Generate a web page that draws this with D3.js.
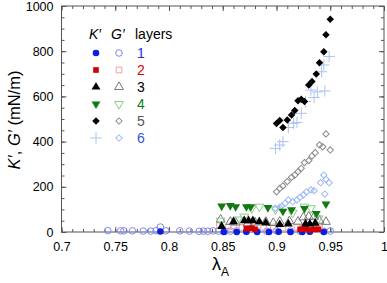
<!DOCTYPE html>
<html>
<head>
<meta charset="utf-8">
<script src="https://cdn.jsdelivr.net/npm/d3@7"></script>
<style>
  body { margin: 0; background: #fff; }
  text { font-family: "Liberation Sans", Arial, sans-serif; }
</style>
</head>
<body>
<svg width="387" height="283"></svg>
<script>
// data: lambda_A and modulus (mN/m)
var k1x = [0.792, 0.851, 0.863, 0.872, 0.882, 0.893, 0.902, 0.913, 0.924, 0.931, 0.944];
var k1y = [2, 0, 0, 1, 0, 0, 1, 0, 0, 1, 0];
var g1x = [0.743, 0.755, 0.758, 0.766, 0.776, 0.783, 0.788, 0.792, 0.797, 0.810, 0.819, 0.828, 0.832,
           0.836, 0.841, 0.846, 0.852, 0.857, 0.863, 0.872, 0.882, 0.891, 0.900, 0.913, 0.922, 0.931, 0.944, 0.950];
var g1y = [6, 5, 5, 5, 4, 4, 6, 22, 5, 5, 4, 3, 4, 3, 5, 4, 3, 4, 5, 3, 4, 3, 5, 4, 3, 4, 3, 4];

var k2x = [0.872, 0.877, 0.880, 0.922, 0.927, 0.931, 0.935, 0.939];
var k2y = [15, 17, 12, 12, 14, 9, 12, 12];
var g2x = [0.847, 0.855, 0.860, 0.868, 0.875, 0.888, 0.897, 0.906, 0.919, 0.925, 0.937, 0.940];
var g2y = [28, 22, 25, 20, 18, 20, 22, 18, 20, 18, 15, 20];

var k3x = [0.849, 0.860, 0.870, 0.874, 0.878, 0.884, 0.890, 0.903, 0.911, 0.927, 0.931, 0.936];
var k3y = [25, 46, 50, 50, 50, 46, 40, 33, 36, 36, 36, 39];
var g3x = [0.848, 0.857, 0.862, 0.873, 0.880, 0.890, 0.897, 0.903, 0.912, 0.920, 0.925, 0.930, 0.935, 0.940, 0.946];
var g3y = [55, 45, 42, 38, 42, 45, 40, 46, 48, 46, 65, 68, 68, 50, 45];

var k4x = [0.849, 0.857, 0.862, 0.872, 0.876, 0.892, 0.906, 0.914, 0.926, 0.937, 0.946];
var k4y = [115, 117, 112, 112, 112, 108, 92, 98, 104, 82, 124];
var g4x = [0.848, 0.864, 0.870, 0.877, 0.884, 0.899, 0.915, 0.926, 0.932, 0.939];
var g4y = [50, 55, 68, 105, 112, 100, 85, 112, 105, 60];

var k5x = [0.900, 0.903, 0.906, 0.910, 0.914, 0.917, 0.920, 0.923, 0.926, 0.930, 0.933, 0.937, 0.940, 0.944, 0.946, 0.950];
var k5y = [480, 493, 462, 496, 518, 538, 581, 587, 577, 650, 666, 699, 749, 798, 873, 941];
var g5x = [0.900, 0.903, 0.906, 0.910, 0.914, 0.917, 0.920, 0.923, 0.926, 0.930, 0.933, 0.936, 0.940, 0.943, 0.946, 0.950];
var g5y = [178, 193, 204, 223, 242, 252, 267, 282, 307, 316, 336, 351, 385, 377, 434, 363];

var k6x = [0.899, 0.903, 0.906, 0.911, 0.916, 0.919, 0.923, 0.927, 0.932, 0.935, 0.938, 0.945, 0.942, 0.944, 0.949];
var k6y = [370, 385, 400, 462, 481, 485, 525, 577, 628, 595, 620, 624, 709, 739, 776];
var g6x = [0.899, 0.903, 0.905, 0.908, 0.911, 0.915, 0.919, 0.922, 0.925, 0.928, 0.932, 0.935, 0.941, 0.944, 0.945, 0.949, 0.946];
var g6y = [105, 109, 115, 127, 142, 134, 142, 154, 164, 178, 186, 183, 218, 252, 168, 218, 233];

var xTicks = [0.7, 0.75, 0.8, 0.85, 0.9, 0.95, 1];
var yTicks = [0, 200, 400, 600, 800, 1000];
var layerNames = ['1', '2', '3', '4', '5', '6'];

var svg = d3.select('svg');
// careful: "top" is a read-only browser global, so use other names
var plotL = 61.5, plotR = 384, plotT = 6, plotB = 232;

var x = d3.scaleLinear().domain([0.7, 1]).range([plotL, plotR]);
var y = d3.scaleLinear().domain([0, 1000]).range([plotB, plotT]);

// frame + inward ticks
var frame = '#555';
svg.append('rect').attr('x', plotL).attr('y', plotT)
    .attr('width', plotR - plotL).attr('height', plotB - plotT)
    .attr('fill', 'none').attr('stroke', frame).attr('stroke-width', 1);

var xMinor = d3.range(70, 101, 1).map(function(v) { return v / 100; });
var yMinor = d3.range(0, 1001, 50);

svg.append('g').attr('transform', 'translate(0,' + plotB + ')')
    .call(d3.axisBottom(x).tickValues(xMinor).tickSize(-3).tickFormat(''));
svg.append('g').attr('transform', 'translate(0,' + plotT + ')')
    .call(d3.axisTop(x).tickValues(xMinor).tickSize(-3).tickFormat(''));
svg.append('g').attr('transform', 'translate(' + plotL + ',0)')
    .call(d3.axisLeft(y).tickValues(yMinor).tickSize(-3).tickFormat(''));
svg.append('g').attr('transform', 'translate(' + plotR + ',0)')
    .call(d3.axisRight(y).tickValues(yMinor).tickSize(-3).tickFormat(''));

svg.append('g').attr('transform', 'translate(0,' + plotB + ')')
    .call(d3.axisBottom(x).tickValues(xTicks).tickSize(-5).tickPadding(10)
        .tickFormat(function(d) { return String(+d.toFixed(2)); }));
svg.append('g').attr('transform', 'translate(0,' + plotT + ')')
    .call(d3.axisTop(x).tickValues(xTicks).tickSize(-5).tickFormat(''));
svg.append('g').attr('transform', 'translate(' + plotL + ',0)')
    .call(d3.axisLeft(y).tickValues(yTicks).tickSize(-5).tickPadding(8).tickFormat(d3.format('d')));
svg.append('g').attr('transform', 'translate(' + plotR + ',0)')
    .call(d3.axisRight(y).tickValues(yTicks).tickSize(-5).tickFormat(''));

svg.selectAll('.domain').remove();
svg.selectAll('.tick line').attr('stroke', frame);
svg.selectAll('.tick text').attr('font-size', 12.5).attr('fill', '#000')
    .style('font-family', '"Liberation Sans", Arial, sans-serif');

// symbols
var sym = {
  circle: d3.symbol().type(d3.symbolCircle).size(34),
  square: d3.symbol().type(d3.symbolSquare).size(32),
  tri: d3.symbol().type(d3.symbolTriangle).size(34),
  diamond: d3.symbol().type(d3.symbolSquare).size(20),
  bigdiamond: d3.symbol().type(d3.symbolSquare).size(28),
  plus: d3.symbol().type(d3.symbolPlus).size(44)
};

var series = [
  {xs: g1x, ys: g1y, s: 'circle', fill: 'none', stroke: '#7f86f2'},
  {xs: g2x, ys: g2y, s: 'square', fill: 'none', stroke: '#f0a0a0'},
  {xs: g3x, ys: g3y, s: 'tri', fill: 'none', stroke: '#777'},
  {xs: g4x, ys: g4y, s: 'tri', rot: 180, fill: 'none', stroke: '#88cc88'},
  {xs: g5x, ys: g5y, s: 'diamond', rot: 45, fill: 'none', stroke: '#8a8a8a'},
  {xs: g6x, ys: g6y, s: 'diamond', rot: 45, fill: 'none', stroke: '#9bb8f5'},
  {xs: k6x, ys: k6y, s: 'plus', fill: 'none', stroke: '#a9c2f2'},
  {xs: k1x, ys: k1y, s: 'circle', fill: '#0a1ee0', stroke: 'none'},
  {xs: k2x, ys: k2y, s: 'square', fill: '#d40000', stroke: 'none'},
  {xs: k3x, ys: k3y, s: 'tri', fill: '#000', stroke: 'none'},
  {xs: k4x, ys: k4y, s: 'tri', rot: 180, fill: '#137a13', stroke: 'none'},
  {xs: k5x, ys: k5y, s: 'bigdiamond', rot: 45, fill: '#000', stroke: 'none'}
];

series.forEach(function(se) {
  svg.append('g').selectAll('path')
    .data(se.xs.map(function(v, i) { return [v, se.ys[i]]; }))
    .enter()
    .append('path')
    .attr('d', sym[se.s]())
    .attr('transform', function(d) {
        return 'translate(' + x(d[0]) + ',' + y(d[1]) + ')' + (se.rot ? ' rotate(' + se.rot + ')' : '');
    })
    .attr('fill', se.fill)
    .attr('stroke', se.stroke)
    .attr('stroke-width', 1);
});

// legend
var legY = [53, 70, 87, 104, 121, 138];
var kStyle = [series[7], series[8], series[9], series[10], series[11], series[6]];
var gStyle = [series[0], series[1], series[2], series[3], series[4], series[5]];
var numColors = ['#1f2fe0', '#d40000', '#000', '#137a13', '#555', '#2f55e0'];

var hdr = svg.append('text').attr('y', 39).attr('font-size', 14);
hdr.append('tspan').attr('x', 89).attr('font-style', 'italic').text('K′');
hdr.append('tspan').attr('x', 111).attr('font-style', 'italic').text('G′');
hdr.append('tspan').attr('x', 135).text('layers');

layerNames.forEach(function(n, i) {
  [[96, kStyle[i]], [119, gStyle[i]]].forEach(function(p) {
    var se = p[1];
    svg.append('path')
      .attr('d', sym[se.s]())
      .attr('transform', 'translate(' + p[0] + ',' + legY[i] + ')' + (se.rot ? ' rotate(' + se.rot + ')' : ''))
      .attr('fill', se.fill).attr('stroke', se.stroke);
  });
  svg.append('text').attr('x', 137).attr('y', legY[i] + 5).attr('font-size', 14)
    .attr('fill', numColors[i]).text(n);
});

// axis titles
var yl = svg.append('text').attr('transform', 'translate(20,120) rotate(-90)')
    .attr('text-anchor', 'middle').attr('font-size', 16.5);
yl.append('tspan').attr('font-style', 'italic').text('K′');
yl.append('tspan').text(', ');
yl.append('tspan').attr('font-style', 'italic').text('G′');
yl.append('tspan').text(' (mN/m)');

var xl = svg.append('text').attr('x', 212).attr('y', 270).attr('font-size', 18).text('λ');
xl.append('tspan').attr('font-size', 12).attr('dy', 6).text('A');
</script>
</body>
</html>
